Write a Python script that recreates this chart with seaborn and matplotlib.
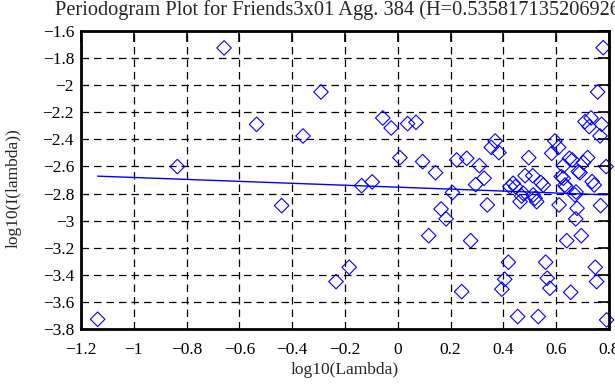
import numpy as np
import pandas as pd
import matplotlib
matplotlib.use("Agg")
import matplotlib.pyplot as plt
import seaborn as sns

# Periodogram points
log_lambda = [
    -1.137, -0.835, -0.658, -0.535, -0.440, -0.359, -0.291, -0.234, -0.184, -0.137,
    -0.097, -0.057, -0.025, 0.008, 0.037, 0.069, 0.094, 0.117, 0.143, 0.164,
    0.183, 0.207, 0.223, 0.242, 0.261, 0.276, 0.295, 0.309, 0.327, 0.339,
    0.354, 0.369, 0.383, 0.394, 0.405, 0.419, 0.425, 0.437, 0.446, 0.454,
    0.463, 0.469, 0.475, 0.482, 0.496, 0.511, 0.513, 0.520, 0.526, 0.532,
    0.542, 0.551, 0.560, 0.566, 0.576, 0.583, 0.595, 0.609, 0.611, 0.619,
    0.627, 0.627, 0.633, 0.637, 0.640, 0.650, 0.655, 0.661, 0.671, 0.674,
    0.675, 0.679, 0.684, 0.690, 0.695, 0.703, 0.709, 0.719, 0.725, 0.732,
    0.736, 0.744, 0.748, 0.753, 0.757, 0.766, 0.768, 0.772, 0.778, 0.789,
    0.791,
]
log_power = [
    -3.728, -2.601, -1.725, -2.289, -2.889, -2.375, -2.050, -3.450, -3.344, -2.742,
    -2.714, -2.242, -2.316, -2.535, -2.284, -2.274, -2.564, -3.111, -2.646, -2.914,
    -2.987, -2.793, -2.552, -3.524, -2.540, -3.148, -2.734, -2.594, -2.687, -2.884,
    -2.459, -2.412, -2.498, -3.506, -3.433, -3.307, -2.749, -2.724, -2.749, -3.708,
    -2.860, -2.818, -2.798, -2.668, -2.535, -2.668, -2.810, -2.835, -2.860, -3.708,
    -2.719, -2.737, -3.307, -3.425, -3.499, -2.503, -2.412, -2.459, -2.884, -2.675,
    -2.596, -2.687, -2.737, -2.750, -3.148, -2.540, -3.529, -2.552, -2.810, -2.987,
    -2.788, -2.909, -2.638, -2.646, -3.111, -2.572, -2.269, -2.535, -2.306, -2.242,
    -2.712, -2.737, -3.344, -3.450, -2.050, -2.375, -2.889, -2.289, -1.723, -2.601,
    -3.733,
]

# fitted line: slope = 1 - 2H
hurst = 0.535817135206926
fit_intercept = -2.753
fit_slope = 1 - 2 * hurst

x_ticks = [-1.2, -1.0, -0.8, -0.6, -0.4, -0.2, 0.0, 0.2, 0.4, 0.6, 0.8]
x_tick_labels = ["\u22121.2", "\u22121", "\u22120.8", "\u22120.6", "\u22120.4", "\u22120.2",
                 "0", "0.2", "0.4", "0.6", "0.8"]
y_ticks = [-1.6, -1.8, -2.0, -2.2, -2.4, -2.6, -2.8, -3.0, -3.2, -3.4, -3.6, -3.8]
y_tick_labels = ["\u22121.6", "\u22121.8", "\u22122", "\u22122.2", "\u22122.4", "\u22122.6",
                 "\u22122.8", "\u22123", "\u22123.2", "\u22123.4", "\u22123.6", "\u22123.8"]

sns.set_style("white")
plt.rcParams["font.family"] = ["Liberation Serif", "DejaVu Serif"]

df = pd.DataFrame({"x": log_lambda, "y": log_power})
fit_x = np.array([min(log_lambda), max(log_lambda)])
fit = pd.DataFrame({"x": fit_x, "y": fit_intercept + fit_slope * fit_x})

fig = plt.figure(figsize=(6.15, 3.85), dpi=100)
ax = fig.add_axes([81 / 615, 1 - 329 / 385, 528 / 615, 298 / 385])

ax.grid(True, color="black", linestyle=(0, (6, 4)), linewidth=0.9)
ax.set_axisbelow(True)

sns.lineplot(data=fit, x="x", y="y", ax=ax, color="blue", linewidth=1.0)
sns.scatterplot(data=df, x="x", y="y", ax=ax, marker="D", s=55,
                facecolor="none", edgecolor="blue", linewidth=0.8, clip_on=False)

ax.set_xlim(-1.2, 0.8)
ax.set_ylim(-3.8, -1.6)
ax.set_xticks(x_ticks)
ax.set_xticklabels(x_tick_labels)
ax.set_yticks(y_ticks)
ax.set_yticklabels(y_tick_labels)
ax.tick_params(axis="both", direction="in", length=8, width=1.2, top=True, right=True,
               labelsize=12.5, colors="black")
ax.tick_params(axis="x", pad=9)
ax.tick_params(axis="y", pad=5)

for s in ax.spines.values():
    s.set_linewidth(2)
    s.set_color("black")

ax.set_xlabel("log10(Lambda)", fontsize=12.5, labelpad=3)
ax.set_ylabel("log10(I(lambda))", fontsize=12.5)
ax.yaxis.set_label_coords(-0.113, 0.473)
fig.text(55 / 615, 1 - 10 / 385, "Periodogram Plot for Friends3x01 Agg. 384 (H=0.535817135206926)",
         fontsize=14.7, ha="left", va="center")

fig.savefig("out.png", dpi=100)
